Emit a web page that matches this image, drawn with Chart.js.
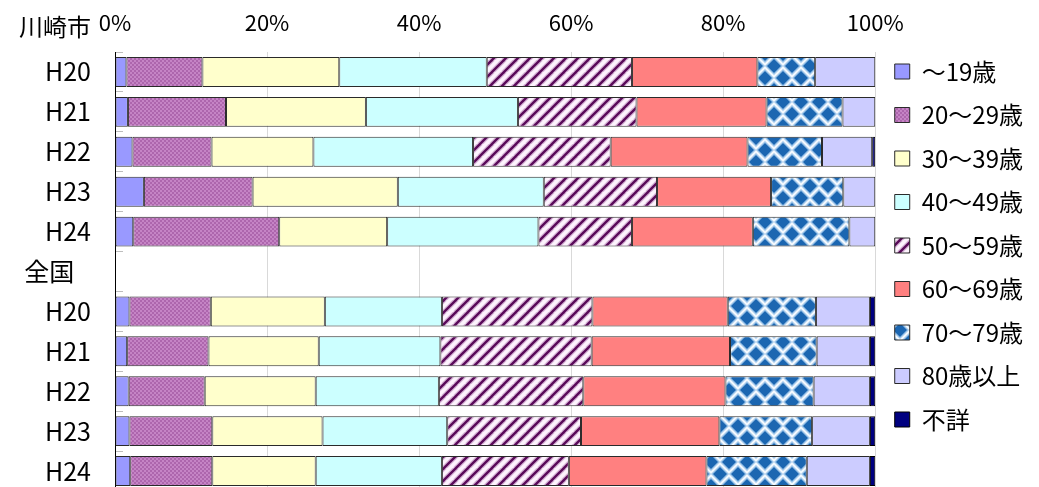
<!DOCTYPE html>
<html lang="ja">
<head>
<meta charset="utf-8">
<title>年齢別構成比</title>
<script src="https://cdn.jsdelivr.net/npm/chart.js@4.4.1/dist/chart.umd.min.js"></script>
<style>
  html, body { margin: 0; padding: 0; background: #fff; overflow: hidden; }
  #wrap { position: relative; width: 1039px; height: 491px; }
</style>
</head>
<body>
<div id="wrap"><canvas id="chart"></canvas></div>
<script>
// -------- DATA --------
// 行：川崎市 H20〜H24、（全国 見出し行）、全国 H20〜H24
const rowLabels = ["H20", "H21", "H22", "H23", "H24", "全国   ", "H20", "H21", "H22", "H23", "H24"];
const groupTitle = "川崎市";

const ageLabels = ["～19歳", "20～29歳", "30～39歳", "40～49歳", "50～59歳", "60～69歳", "70～79歳", "80歳以上", "不詳"];

// 構成比（％）
const age19   = [1.5, 1.7, 2.3, 3.8, 2.4, null, 1.9, 1.6, 1.8, 1.9, 2.0];
const age20s  = [10.0, 12.9, 10.4, 14.3, 19.2, null, 10.7, 10.7, 10.0, 10.9, 10.8];
const age30s  = [18.0, 18.4, 13.4, 19.1, 14.2, null, 15.0, 14.5, 14.6, 14.5, 13.6];
const age40s  = [19.4, 20.0, 21.0, 19.2, 19.9, null, 15.4, 16.0, 16.2, 16.4, 16.6];
const age50s  = [19.1, 15.6, 18.1, 14.9, 12.3, null, 19.8, 19.9, 19.0, 17.6, 16.7];
const age60s  = [16.5, 17.1, 18.0, 15.0, 15.9, null, 17.8, 18.2, 18.7, 18.2, 18.1];
const age70s  = [7.6, 10.0, 9.8, 9.5, 12.7, null, 11.6, 11.4, 11.6, 12.2, 13.2];
const age80   = [7.9, 4.3, 6.6, 4.2, 3.4, null, 7.1, 7.0, 7.4, 7.6, 8.3];
const unknown = [null, null, 0.4, null, null, null, 0.7, 0.7, 0.7, 0.7, 0.7];

const xTicks = [0, 20, 40, 60, 80, 100];

// -------- PATTERNS --------
function makePattern(w, h, draw) {
  const c = document.createElement("canvas");
  c.width = w; c.height = h;
  const g = c.getContext("2d");
  draw(g, w, h);
  return g.createPattern(c, "repeat");
}

// 20〜29歳：細かい市松
const checkPurple = makePattern(4, 4, (g) => {
  g.fillStyle = "#c584c5"; g.fillRect(0, 0, 4, 4);
  g.fillStyle = "#ad66ad"; g.fillRect(0, 0, 2, 2); g.fillRect(2, 2, 2, 2);
});

// 50〜59歳：斜線
const stripePurple = makePattern(12, 12, (g) => {
  g.fillStyle = "#fdf3fd"; g.fillRect(0, 0, 12, 12);
  [[5, "#d6b4d6"], [2.4, "#5a0a5a"]].forEach(([lw, col]) => {
    g.strokeStyle = col; g.lineWidth = lw;
    [0, 12, 24].forEach(k => {
      g.beginPath(); g.moveTo(k - 13, 13); g.lineTo(k + 1, -1); g.stroke();
    });
  });
});

// 70〜79歳：ダイヤ柄
const diamondBlue = makePattern(18, 24, (g) => {
  g.fillStyle = "#f4f9fe"; g.fillRect(0, 0, 18, 24);
  const dia = (cx, cy, r, col) => {
    g.fillStyle = col;
    g.beginPath();
    g.moveTo(cx, cy - r); g.lineTo(cx + r, cy); g.lineTo(cx, cy + r); g.lineTo(cx - r, cy);
    g.closePath(); g.fill();
  };
  [[9, 6], [0, 18], [18, 18], [0, -6], [18, -6], [9, 30]].forEach(([x, y]) => {
    dia(x, y, 9, "#9cc4e8");
    dia(x, y, 7, "#1b66b1");
  });
});

// -------- CHART --------
Chart.defaults.font.family = '"Noto Sans CJK JP", "Noto Sans", sans-serif';
Chart.defaults.color = "#000";

const edge = "#2a2a2a";
const series = [
  { label: ageLabels[0], data: age19,   backgroundColor: "#9999ff" },
  { label: ageLabels[1], data: age20s,  backgroundColor: checkPurple },
  { label: ageLabels[2], data: age30s,  backgroundColor: "#ffffcc" },
  { label: ageLabels[3], data: age40s,  backgroundColor: "#ccffff" },
  { label: ageLabels[4], data: age50s,  backgroundColor: stripePurple },
  { label: ageLabels[5], data: age60s,  backgroundColor: "#ff8080" },
  { label: ageLabels[6], data: age70s,  backgroundColor: diamondBlue },
  { label: ageLabels[7], data: age80,   backgroundColor: "#ccccff" },
  { label: ageLabels[8], data: unknown, backgroundColor: "#000080" }
].map(d => Object.assign(d, {
  borderColor: d.label === "不詳" ? "#000" : edge,
  borderWidth: 1,
  borderSkipped: false,
  barPercentage: 0.75,
  categoryPercentage: 1
}));

// 左上の「川崎市」見出し
const groupTitlePlugin = {
  id: "groupTitle",
  afterDraw(chart) {
    const y = chart.scales.y;
    const ctx = chart.ctx;
    ctx.save();
    ctx.font = '24px "Noto Sans CJK JP"';
    ctx.fillStyle = "#000";
    ctx.textAlign = "right";
    ctx.textBaseline = "middle";
    ctx.fillText(groupTitle, y.right - 24, 27);
    ctx.restore();
  }
};

new Chart(document.getElementById("chart"), {
  type: "bar",
  data: { labels: rowLabels, datasets: series },
  plugins: [groupTitlePlugin],
  options: {
    indexAxis: "y",
    responsive: true,
    maintainAspectRatio: false,
    animation: false,
    layout: { padding: { top: 0, left: 0, bottom: 0, right: 6 } },
    plugins: {
      legend: {
        position: "right",
        labels: {
          boxWidth: 15,
          boxHeight: 15,
          padding: 19.5,
          font: { size: 24 }
        }
      },
      tooltip: { enabled: false }
    },
    scales: {
      x: {
        position: "top",
        stacked: true,
        min: 0,
        max: 100,
        afterBuildTicks: (s) => { s.ticks = xTicks.map(v => ({ value: v })); },
        afterFit: (s) => { s.height = 52; },
        ticks: { padding: 16, font: { size: 22 }, callback: (v) => v + "%" },
        grid: { color: "#d9d9d9", drawTicks: false },
        border: { display: false }
      },
      y: {
        stacked: true,
        afterFit: (s) => { s.width = 115; s.paddingTop = 0; s.paddingBottom = 0; },
        ticks: { padding: 32, font: { size: 25 } },
        // 目盛りの短い線はプロット内側へ
        grid: { display: true, drawOnChartArea: false, drawTicks: true, tickLength: -8, tickColor: "#bdbdbd", offset: true },
        border: { display: true, color: "#000", width: 1 }
      }
    }
  }
});
</script>
</body>
</html>
